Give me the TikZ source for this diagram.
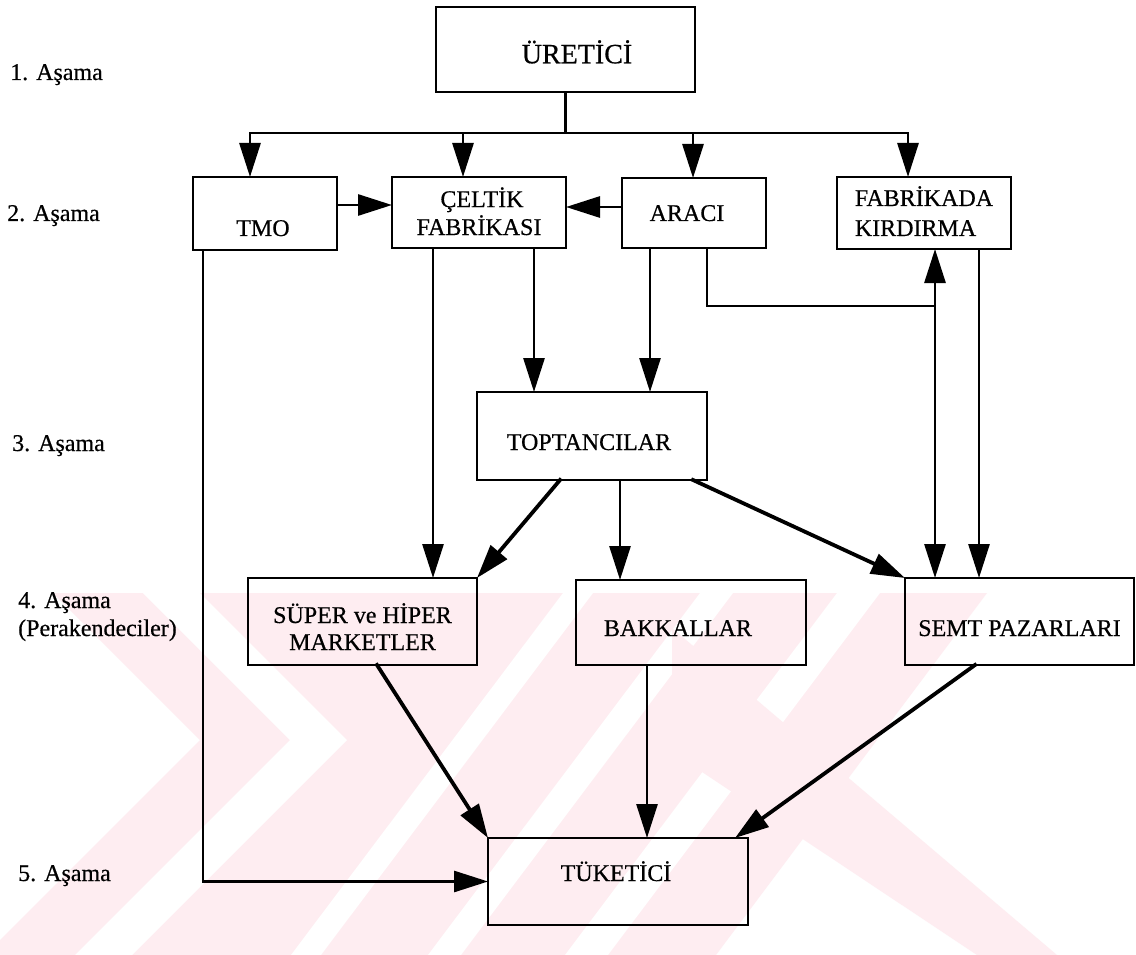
\documentclass[tikz,border=0pt]{standalone}
\usepackage{fontspec}
\setmainfont{Liberation Serif}[FakeBold=0.5]
\usetikzlibrary{arrows.meta}
\definecolor{wm}{RGB}{254,237,241}
\newcommand\st[2]{\raisebox{#1}[0pt][0pt]{#2}}
\newcommand\bt[3]{\raisebox{#1}[0pt][0pt]{\begin{tabular}[b]{@{}#2@{}}#3\end{tabular}}}
\begin{document}
\begin{tikzpicture}[x=1pt,y=-1pt,
  box/.style={draw,line width=2.6pt,inner sep=0pt,outer sep=0pt,align=center,font=\fontsize{24}{27}\selectfont},
  lab/.style={anchor=base west,inner sep=0pt,font=\fontsize{24}{28}\selectfont},
  ln/.style={line width=2.8pt,line cap=rect},
  arr/.style={ln,-{Triangle[length=34pt,width=21pt]}},
  arr2/.style={ln,{Triangle[length=34pt,width=21pt]}-{Triangle[length=34pt,width=21pt]}},
  diag/.style={arr,line width=3.8pt}]
\useasboundingbox (0,0) rectangle (1136,955);
\fill[white] (0,0) rectangle (1136,955);
% watermark
\fill[wm] (53,593) -- (987,593) -- (716,955) -- (0,955) -- (0,940) -- (200,740) -- cycle;
\fill[white] (143,593) -- (200,593) -- (347,740) -- (132,955) -- (75,955) -- (290,740) -- cycle;
\fill[white] (563,593) -- (593,593) -- (321,955) -- (291,955) -- cycle;
\fill[white] (700,593) -- (733,593) -- (461,955) -- (428,955) -- cycle;
\fill[white] (837,593) -- (880,593) -- (608,955) -- (565,955) -- cycle;
\fill[wm] (672,628) -- (1057,955) -- (977,955) -- (672,752) -- cycle;

% stage labels
\node[lab] (s1) at (10,80) {1. Aşama};
\node[lab] (s2) at (7,221) {2. Aşama};
\node[lab] (s3) at (12,451) {3. Aşama};
\node[lab] (s4) at (18,636) {\begin{tabular}[b]{@{}l@{}}4. Aşama\\(Perakendeciler)\end{tabular}};
\node[lab] (s5) at (18,881) {5. Aşama};

% boxes
\node[box,minimum width=259pt,minimum height=85pt,font=\fontsize{28}{32}\selectfont] (uretici) at (565.5,49.5) {\st{-13.8pt}{\hspace*{23pt}ÜRETİCİ}};
\node[box,minimum width=144pt,minimum height=73pt] (tmo) at (265,213.5) {\st{-22.5pt}{\hspace*{-4pt}TMO}};
\node[box,minimum width=174pt,minimum height=71pt] (celtik) at (479,212.5) {\bt{-22.5pt}{c}{\hspace*{6pt}ÇELTİK\\FABRİKASI}};
\node[box,minimum width=144pt,minimum height=70pt] (araci) at (694,213) {\st{-8pt}{\hspace*{-14pt}ARACI}};
\node[box,minimum width=174pt,minimum height=72pt] (fabrika) at (924,213) {\bt{-23pt}{l}{FABRİKADA\\[3pt]KIRDIRMA}};
\node[box,minimum width=230pt,minimum height=88pt] (toptan) at (592,436) {\st{-14pt}{\hspace*{-6pt}TOPTANCILAR}};
\node[box,minimum width=229pt,minimum height=87pt] (super) at (362.5,621.5) {\bt{-28.5pt}{c}{SÜPER ve HİPER\\MARKETLER}};
\node[box,minimum width=230pt,minimum height=85pt] (bakkal) at (691,622.5) {\st{-13.5pt}{\hspace*{-26pt}BAKKALLAR}};
\node[box,minimum width=229pt,minimum height=87pt] (semt) at (1019.5,621.5) {\st{-14.5pt}{SEMT PAZARLARI}};
\node[box,minimum width=260pt,minimum height=87pt] (tuketici) at (618,881.5) {\st{0.5pt}{\hspace*{-4pt}TÜKETİCİ}};

% reference coordinates
\coordinate (busL) at (250,133);
\coordinate (busR) at (908,133);
\coordinate (bc) at (463,133);
\coordinate (ba) at (693,133);
\coordinate (y1) at (0,205);
\coordinate (y2) at (0,207);
\coordinate (x203) at (203,0);
\coordinate (x433) at (433,0);
\coordinate (x534) at (534,0);
\coordinate (x650) at (650,0);
\coordinate (x707) at (707,0);
\coordinate (jn) at (935,306);
\coordinate (x979) at (979,0);
\coordinate (x560) at (560,0);
\coordinate (x620) at (620,0);
\coordinate (x693) at (693,0);
\coordinate (x377) at (377,0);
\coordinate (x647) at (647,0);
\coordinate (x975) at (975,0);
\coordinate (x735) at (735,0);

% connectors
\draw[ln] (uretici.south) -- (uretici.south |- busL);
\draw[ln] (busL) -- (busR);
\draw[arr] (busL) -- (tmo.north -| busL);
\draw[arr] (bc) -- (celtik.north -| bc);
\draw[arr] (ba) -- (araci.north -| ba);
\draw[arr] (busR) -- (fabrika.north -| busR);
\draw[arr] (tmo.east |- y1) -- (celtik.west |- y1);
\draw[arr] (araci.west |- y2) -- (celtik.east |- y2);
\draw[arr] (celtik.south -| x433) -- (super.north -| x433);
\draw[arr] (celtik.south -| x534) -- (toptan.north -| x534);
\draw[arr] (araci.south -| x650) -- (toptan.north -| x650);
\draw[ln] (araci.south -| x707) |- (jn);
\draw[arr2] (fabrika.south -| jn) -- (semt.north -| jn);
\draw[arr] (fabrika.south -| x979) -- (semt.north -| x979);
\draw[diag] (toptan.south -| x560) -- (super.north east);
\draw[arr] (toptan.south -| x620) -- (bakkal.north -| x620);
\draw[diag] (toptan.south -| x693) -- (semt.north west);
\draw[arr] (tmo.south -| x203) |- (tuketici.west);
\draw[diag] (super.south -| x377) -- (tuketici.north west);
\draw[arr] (bakkal.south -| x647) -- (tuketici.north -| x647);
\draw[diag] (semt.south -| x975) -- (tuketici.north -| x735);
\end{tikzpicture}
\end{document}
